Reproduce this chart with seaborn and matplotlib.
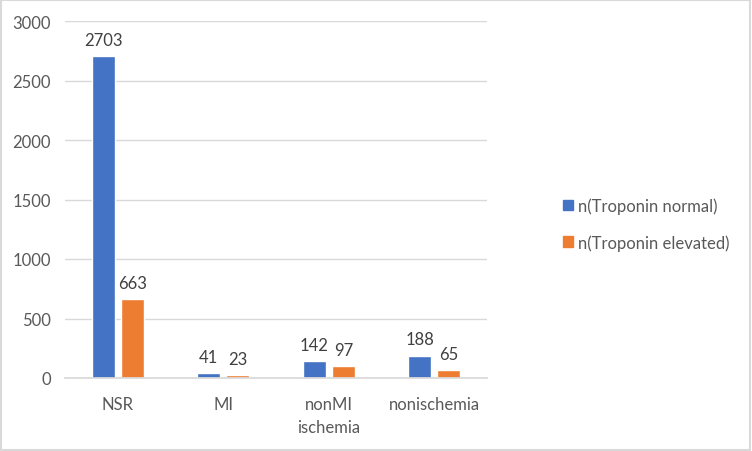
import pandas as pd
import seaborn as sns
import matplotlib.pyplot as plt
from matplotlib.patches import Rectangle

# data
categories = ['NSR', 'MI', 'nonMI\nischemia', 'nonischemia']
normal = [2703, 41, 142, 188]
elevated = [663, 23, 97, 65]
series = ['n(Troponin normal)', 'n(Troponin elevated)']

df = pd.DataFrame({
    'cat': categories * 2,
    'n': normal + elevated,
    'serie': [series[0]] * 4 + [series[1]] * 4,
})

sns.set_theme(style='white')
plt.rcParams['font.family'] = ['Lato', 'DejaVu Sans']

fig = plt.figure(figsize=(7.52, 4.52), dpi=100)
ax = fig.add_axes([65 / 752, 1 - 379 / 452, (487 - 65) / 752, (379 - 22) / 452])

sns.barplot(data=df, x='cat', y='n', hue='serie', ax=ax,
            palette=['#4472C4', '#ED7D31'], width=0.55, gap=0.2,
            saturation=1, errorbar=None)

ax.set_ylim(0, 3000)
ax.set_yticks(range(0, 3001, 500))
ax.yaxis.grid(True, color='#d9d9d9', linewidth=1)
ax.set_axisbelow(True)
for s in ['top', 'right', 'left']:
    ax.spines[s].set_visible(False)
ax.spines['bottom'].set_color('#d9d9d9')
ax.set_xlabel('')
ax.set_ylabel('')
ax.tick_params(axis='y', length=0, pad=10, labelsize=12, labelcolor='#595959')
ax.tick_params(axis='x', length=0, pad=13, labelsize=12, labelcolor='#595959')
for t in ax.get_xticklabels():
    t.set_linespacing(1.5)
    t.set_multialignment('center')

# value labels
for c in ax.containers:
    ax.bar_label(c, fmt='%d', padding=6, fontsize=12, color='#404040')

# legend on the right
ax.get_legend().remove()
handles = [Rectangle((0, 0), 1, 1, color=col) for col in ['#4472C4', '#ED7D31']]
fig.legend(handles, series, loc='center left', bbox_to_anchor=(548 / 752, 1 - 225 / 452),
           frameon=False, fontsize=12, labelcolor='#595959', handlelength=0.6,
           handleheight=0.6, handletextpad=0.3, labelspacing=1.2)

# grey frame around chart
fig.patches.append(Rectangle((0.001, 0.002), 0.997, 0.996, transform=fig.transFigure,
                             fill=False, edgecolor='#d9d9d9', linewidth=1.5))

plt.savefig('out.png', dpi=100)
